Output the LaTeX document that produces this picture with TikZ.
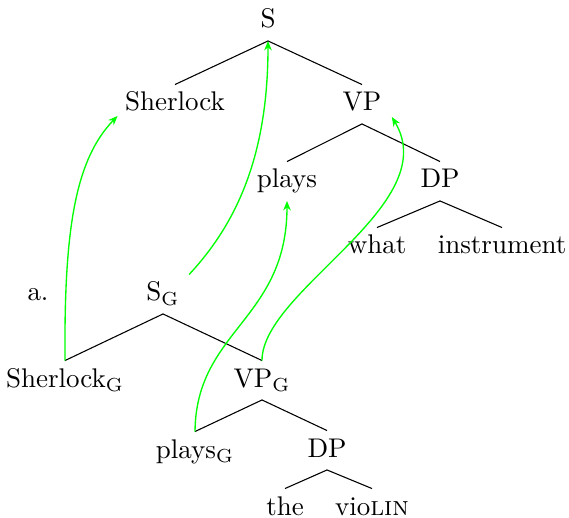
\documentclass[tikz,border=0pt]{standalone}
\usetikzlibrary{arrows.meta}
\definecolor{grn}{RGB}{0,255,0}
\begin{document}
\begin{tikzpicture}[x=0.3704pt,y=-0.3704pt,
  lbl/.style={anchor=base,inner xsep=3.33pt,inner ysep=2.6pt,text height=7pt,text depth=2pt},
  br/.style={line width=0.4pt},
  mv/.style={grn,line width=0.5pt,-{Stealth[length=3.5pt,width=2.8pt]}}]
\useasboundingbox (0,0) rectangle (569,518);
% top tree
\node[lbl] (S) at (268,28) {S};
\node[lbl] (Sherlock) at (175,111) {Sherlock};
\node[lbl] (VP) at (362,111) {VP};
\node[lbl] (plays) at (287,188) {plays};
\node[lbl] (DP1) at (440,188) {DP};
\node[lbl] (what) at (377,254) {what};
\node[lbl] (instr) at (502,254) {instrument};
\draw[br] (S.south) -- (Sherlock.north);
\draw[br] (S.south) -- (VP.north);
\draw[br] (VP.south) -- (plays.north);
\draw[br] (VP.south) -- (DP1.north);
\draw[br] (DP1.south) -- (what.north);
\draw[br] (DP1.south) -- (instr.north);
% bottom tree
\node[lbl] (a) at (38,301) {a.};
\node[lbl] (SG) at (163,301) {S$_{\mathrm{G}}$};
\node[lbl] (SherlockG) at (65,387) {Sherlock$_{\mathrm{G}}$};
\node[lbl] (VPG) at (262,387) {VP$_{\mathrm{G}}$};
\node[lbl] (playsG) at (195,458) {plays$_{\mathrm{G}}$};
\node[lbl] (DP2) at (327,457) {DP};
\node[lbl] (the) at (285,515) {the};
\node[lbl] (violin) at (372,515) {vio\textsc{lin}};
\draw[br] (SG.south) -- (SherlockG.north);
\draw[br] (SG.south) -- (VPG.north);
\draw[br] (VPG.south) -- (playsG.north);
\draw[br] (VPG.south) -- (DP2.north);
\draw[br] (DP2.south) -- (the.north);
\draw[br] (DP2.south) -- (violin.north);
% movement arrows
\draw[mv] (SherlockG.north) .. controls (64,230) and (75,160) .. ([shift={(2,-8)}]Sherlock.south west);
\draw[mv] (SG.north east) .. controls (240,220) and (268,150) .. (S.south);
\draw[mv] (playsG.north) .. controls (196,330) and (287,320) .. (plays.south);
\draw[mv] (VPG.north) .. controls (262,290) and (445,205) .. ([shift={(1,-7)}]VP.south east);
\end{tikzpicture}
\end{document}
